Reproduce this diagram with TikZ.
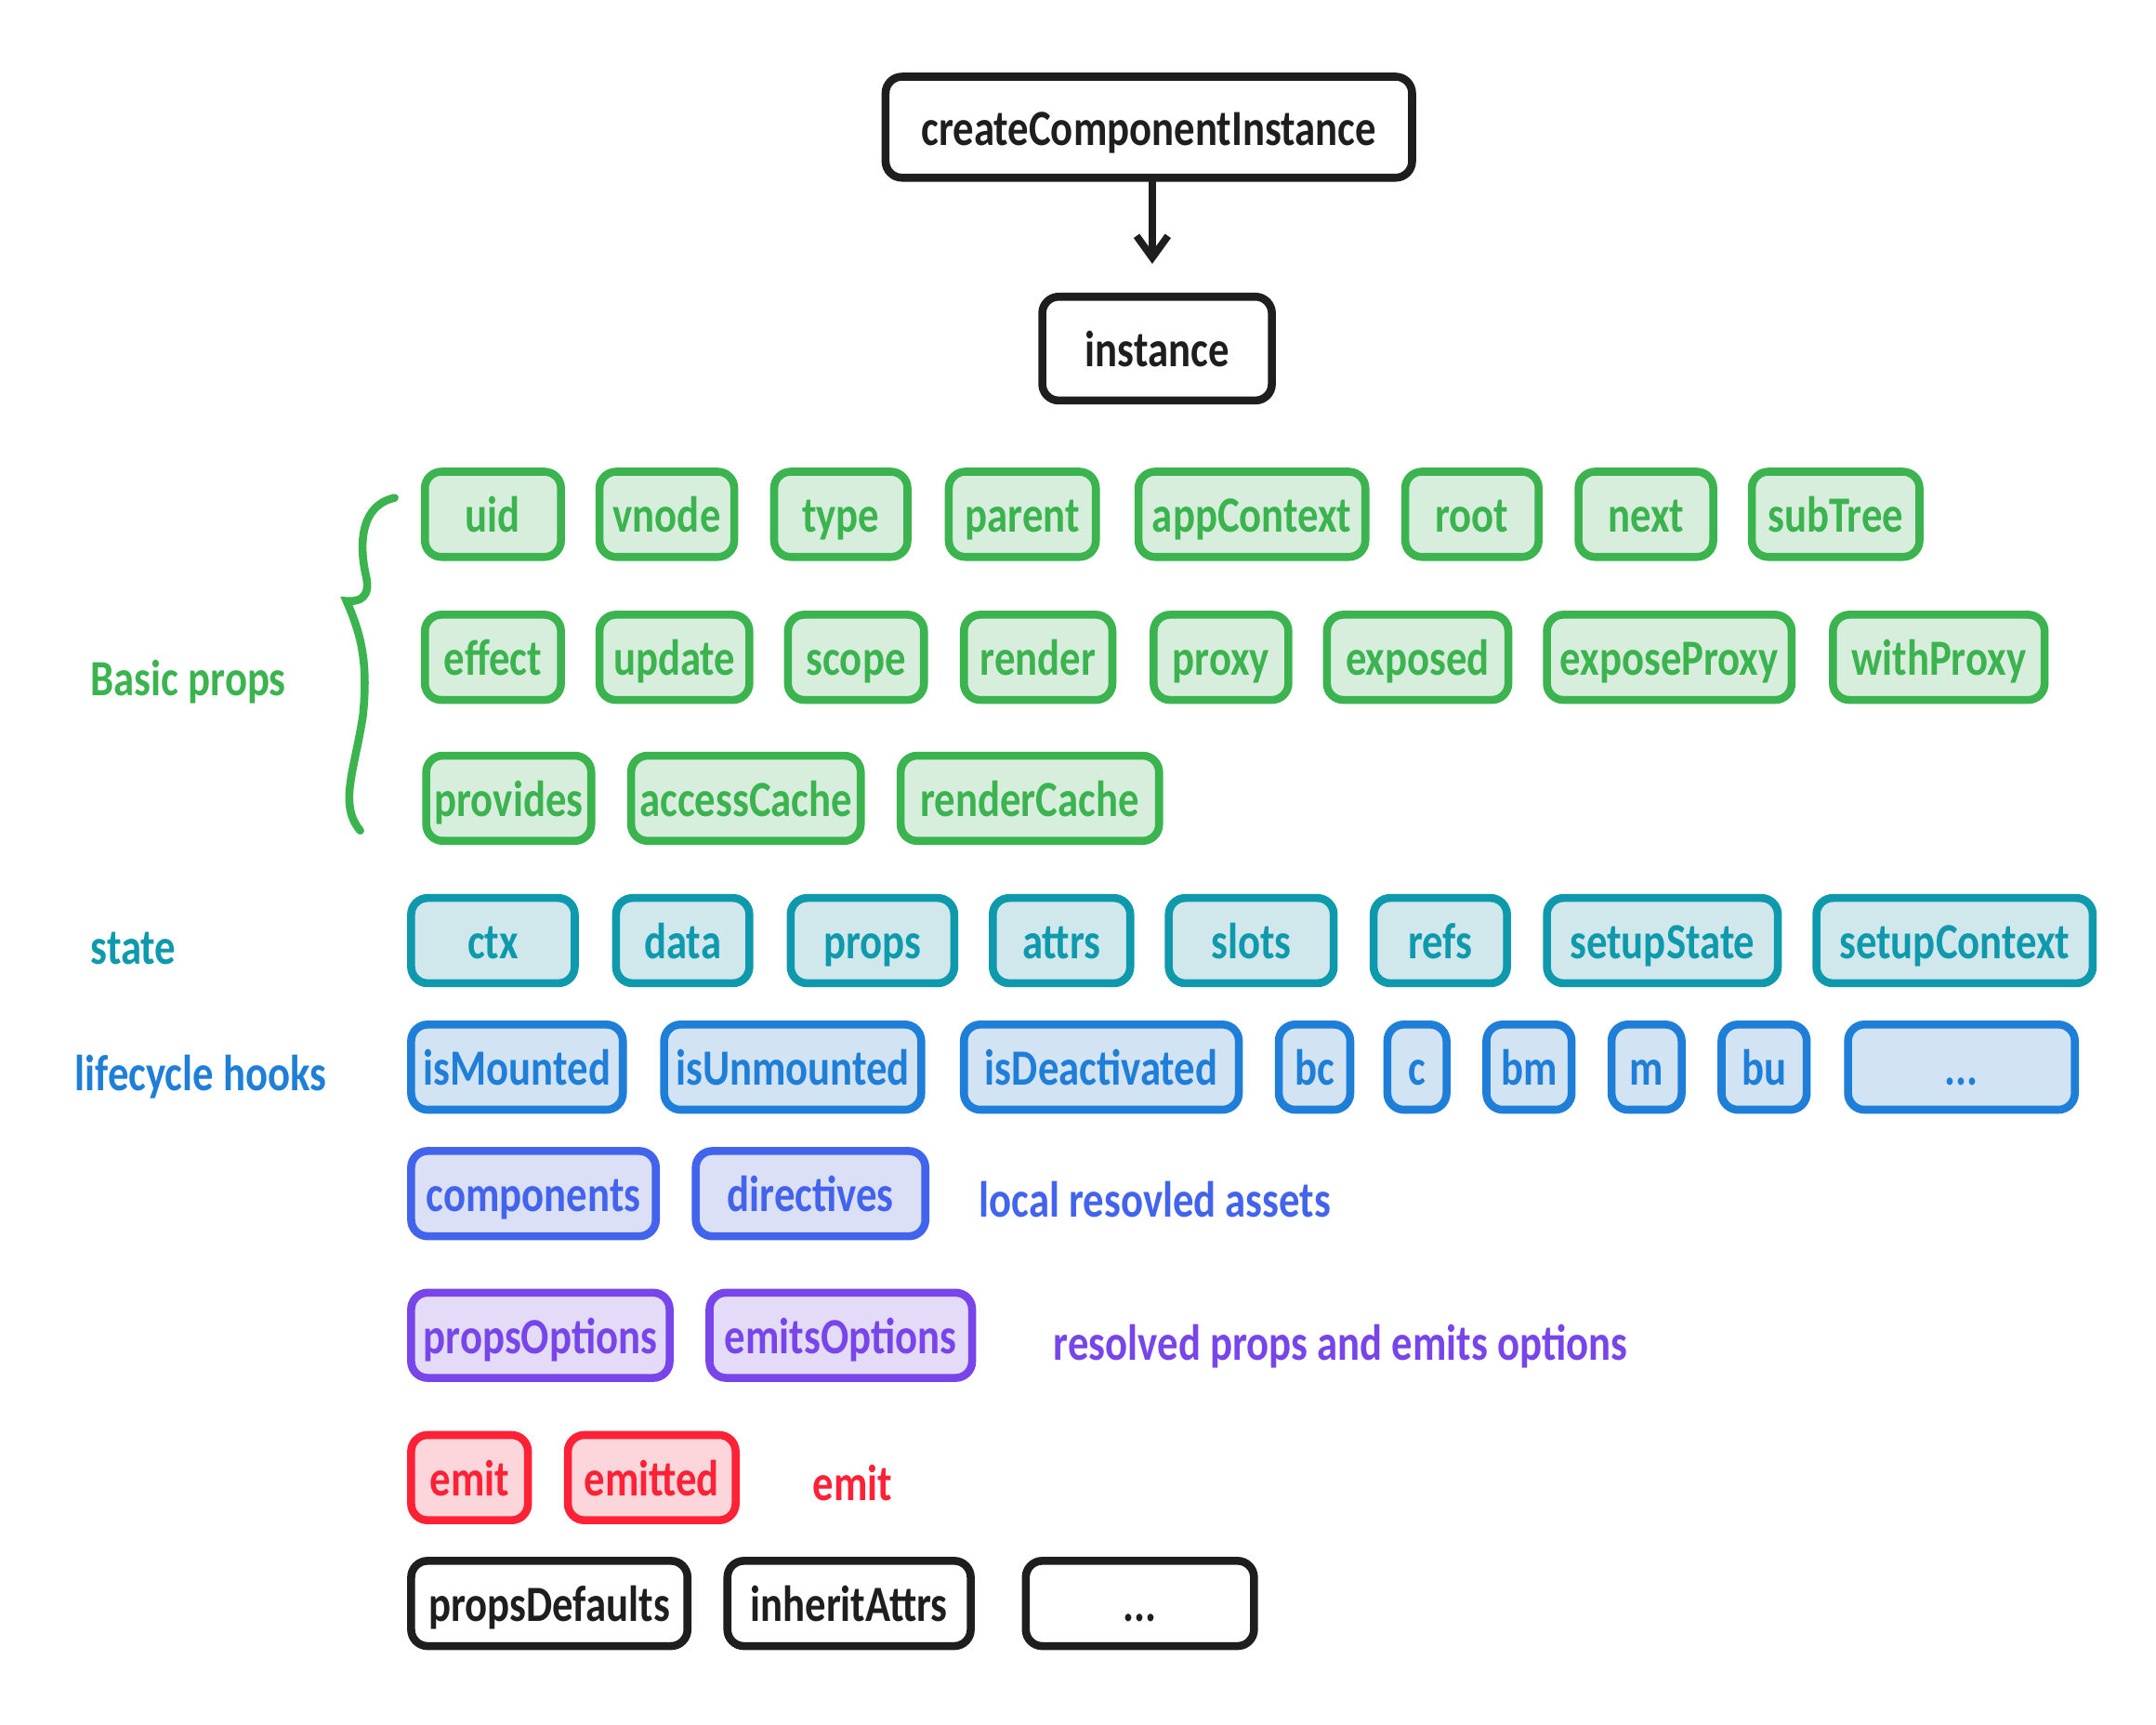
\documentclass[tikz,border=0pt]{standalone}
\usepackage{fontspec}
\setmainfont{Carlito}[FakeStretch = 0.82]
\usetikzlibrary{arrows.meta}

\definecolor{gstroke}{HTML}{3BB34E}
\definecolor{gfill}{HTML}{D8EEDC}
\definecolor{tstroke}{HTML}{0F99AD}
\definecolor{tfill}{HTML}{D0E8EC}
\definecolor{bstroke}{HTML}{1F7FD8}
\definecolor{bfill}{HTML}{D2E3F3}
\definecolor{istroke}{HTML}{4263EB}
\definecolor{ifill}{HTML}{DBE0F7}
\definecolor{vstroke}{HTML}{7745EA}
\definecolor{vfill}{HTML}{E3DBF7}
\definecolor{rstroke}{HTML}{FF2236}
\definecolor{rfill}{HTML}{FCD6DA}
\definecolor{kstroke}{HTML}{1E1E1E}

\tikzset{
    box/.style = {draw, rounded corners = 0.24cm, line width = 3.3pt,
        minimum height = 1.24cm, inner xsep = 1pt,
        text height = 15pt, text depth = 0pt,
        font = \fontsize{21}{24}\selectfont\bfseries},
    gbox/.style = {box, draw = gstroke, fill = gfill, text = gstroke},
    tbox/.style = {box, draw = tstroke, fill = tfill, text = tstroke},
    bbox/.style = {box, draw = bstroke, fill = bfill, text = bstroke},
    ibox/.style = {box, draw = istroke, fill = ifill, text = istroke},
    vbox/.style = {box, draw = vstroke, fill = vfill, text = vstroke},
    rbox/.style = {box, draw = rstroke, fill = rfill, text = rstroke},
    kbox/.style = {box, draw = kstroke, fill = white, text = kstroke},
    note/.style = {text height = 15pt, text depth = 0pt,
        font = \fontsize{21}{24}\selectfont\bfseries},
}

\begin{document}
\begin{tikzpicture}[x = 0.02cm, y = -0.02cm, >={Straight Barb[length=9pt, width=13pt]}]
    \useasboundingbox (0, 0) rectangle (1568, 1254);

    \node[kbox, minimum width = 7.66cm, minimum height = 1.47cm] (cci) at (835.5, 92.5) {createComponentInstance};
    \node[kbox, minimum width = 3.34cm, minimum height = 1.51cm] (inst) at (841.5, 253.5) {instance};
    \draw[->, kstroke, line width = 3pt, line cap = round, shorten >= 0.42cm] (cci.south -| 838, 0) to (inst.north -| 838, 0);

    % basic props
    \node[gbox, minimum width = 1.98cm] (uid) at (358.5, 374) {uid};
    \node[gbox, minimum width = 1.96cm] (vnode) at (485, 374) {vnode};
    \node[gbox, minimum width = 1.94cm] (type) at (611.5, 374) {type};
    \node[gbox, minimum width = 2.14cm] (parent) at (743.5, 374) {parent};
    \node[gbox, minimum width = 3.3cm] (appctx) at (910.5, 374) {appContext};
    \node[gbox, minimum width = 1.94cm] (root) at (1070.5, 374) {root};
    \node[gbox, minimum width = 1.96cm] (next) at (1197, 374) {next};
    \node[gbox, minimum width = 2.44cm] (subtree) at (1335, 374) {subTree};

    \node[gbox, minimum width = 1.98cm] (effect) at (358.5, 478) {effect};
    \node[gbox, minimum width = 2.18cm] (update) at (490.5, 478) {update};
    \node[gbox, minimum width = 1.98cm] (scope) at (622.5, 478) {scope};
    \node[gbox, minimum width = 2.16cm] (render) at (755, 478) {render};
    \node[gbox, minimum width = 1.96cm] (proxy) at (888, 478) {proxy};
    \node[gbox, minimum width = 2.64cm] (exposed) at (1031, 478) {exposed};
    \node[gbox, minimum width = 3.56cm] (expproxy) at (1214, 478) {exposeProxy};
    \node[gbox, minimum width = 3.08cm] (withproxy) at (1410, 478) {withProxy};

    \node[gbox, minimum width = 2.4cm] (provides) at (370, 580.5) {provides};
    \node[gbox, minimum width = 3.34cm] (acache) at (542.5, 580.5) {accessCache};
    \node[gbox, minimum width = 3.76cm] (rcache) at (749, 580.5) {renderCache};

    \draw[gstroke, line width = 3.3pt, line cap = round]
        (287, 362) .. controls (260, 368) and (262, 400) .. (266, 418)
        .. controls (270, 434) and (262, 438) .. (252, 437)
        .. controls (262, 460) and (268, 480) .. (264, 520)
        .. controls (258, 560) and (246, 585) .. (262, 604);
    \node[note, text = gstroke] (basic) at (137, 493) {Basic props};

    % state
    \node[tbox, minimum width = 2.38cm] (ctx) at (358.5, 684) {ctx};
    \node[tbox, minimum width = 1.94cm] (data) at (496.5, 684) {data};
    \node[tbox, minimum width = 2.38cm] (props) at (634.5, 684) {props};
    \node[tbox, minimum width = 2.0cm] (attrs) at (772, 684) {attrs};
    \node[tbox, minimum width = 2.4cm] (slots) at (910, 684) {slots};
    \node[tbox, minimum width = 1.94cm] (refs) at (1047.5, 684) {refs};
    \node[tbox, minimum width = 3.36cm] (sstate) at (1209, 684) {setupState};
    \node[tbox, minimum width = 4.02cm] (sctx) at (1421.5, 684) {setupContext};
    \node[note, text = tstroke] (state) at (97, 688) {state};

    % lifecycle hooks
    \node[bbox, minimum width = 3.08cm] (ismounted) at (376, 776) {isMounted};
    \node[bbox, minimum width = 3.74cm] (isunmounted) at (576.5, 776) {isUnmounted};
    \node[bbox, minimum width = 4.0cm] (isdeact) at (801, 776) {isDeactivated};
    \node[bbox, minimum width = 1.04cm] (bc) at (956, 776) {bc};
    \node[bbox, minimum width = 0.86cm] (c) at (1030.5, 776) {c};
    \node[bbox, minimum width = 1.24cm] (bm) at (1112, 776) {bm};
    \node[bbox, minimum width = 1.02cm] (m) at (1197.5, 776) {m};
    \node[bbox, minimum width = 1.24cm] (bu) at (1283, 776) {bu};
    \node[bbox, minimum width = 3.3cm] (hookmore) at (1426.5, 776) {...};
    \node[note, text = bstroke] (hooks) at (146, 780) {lifecycle hooks};

    % assets
    \node[ibox, minimum width = 3.56cm] (comps) at (388, 868) {components};
    \node[ibox, minimum width = 3.34cm] (dirs) at (589.5, 868) {directives};
    \node[note, text = istroke] (assets) at (840, 872) {local resovled assets};

    % options
    \node[vbox, minimum width = 3.76cm] (popts) at (393, 971) {propsOptions};
    \node[vbox, minimum width = 3.82cm] (eopts) at (611.5, 971) {emitsOptions};
    \node[note, text = vstroke] (opts) at (975, 976) {resolved props and emits options};

    % emit
    \node[rbox, minimum width = 1.7cm] (emit) at (341.5, 1074.5) {emit};
    \node[rbox, minimum width = 2.44cm] (emitted) at (474, 1074.5) {emitted};
    \node[note, text = rstroke] (emitlabel) at (620, 1078) {emit};

    % others
    \node[kbox, minimum width = 4.02cm] (pdefaults) at (399.5, 1166) {propsDefaults};
    \node[kbox, minimum width = 3.54cm] (inherit) at (617.5, 1166) {inheritAttrs};
    \node[kbox, minimum width = 3.32cm] (more) at (829, 1166) {...};
\end{tikzpicture}
\end{document}
